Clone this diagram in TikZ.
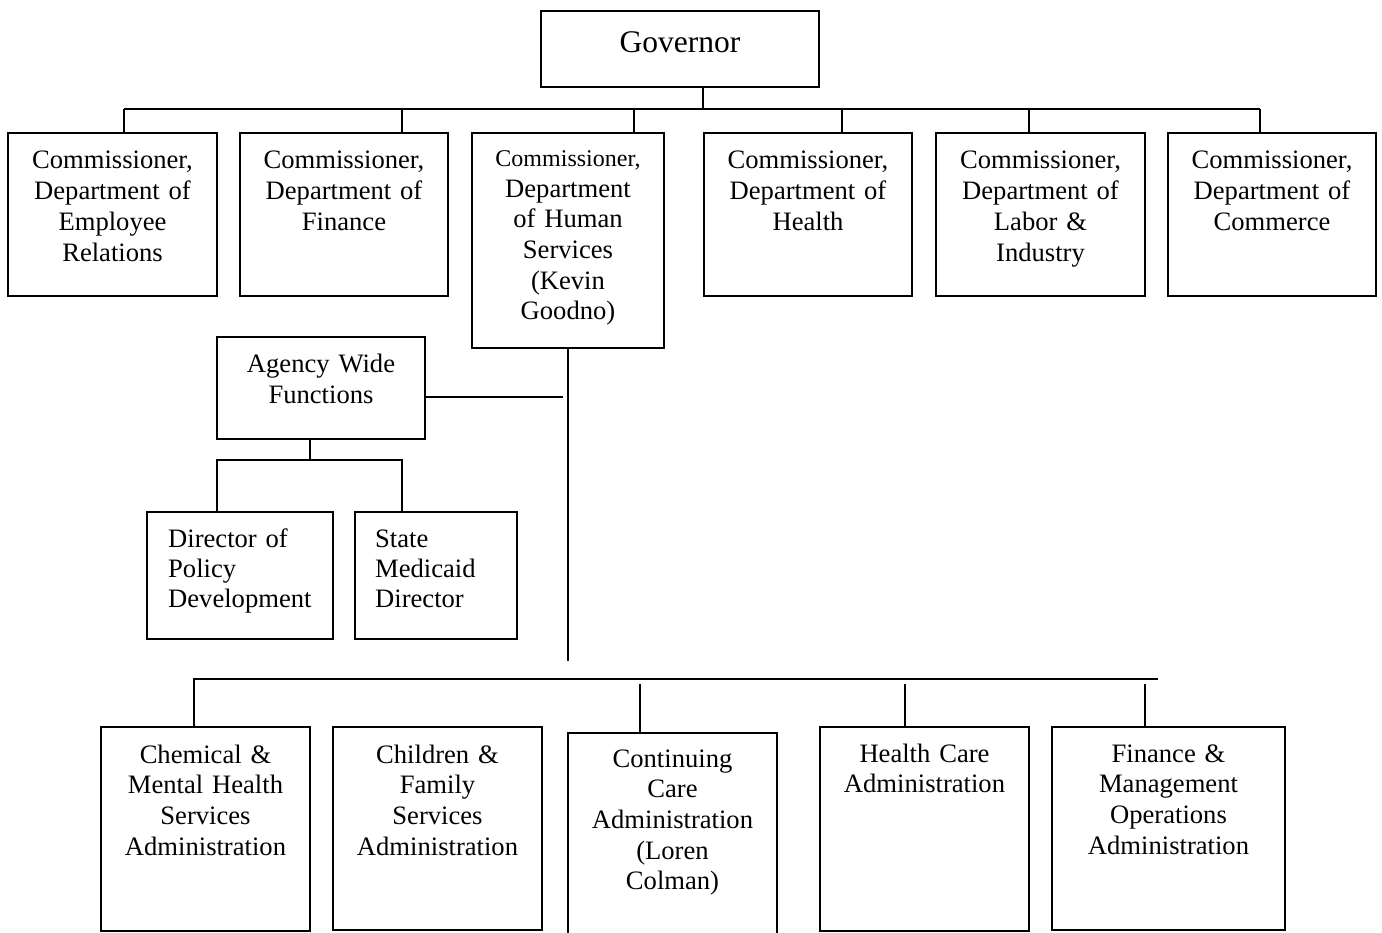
\documentclass[tikz,border=0pt]{standalone}
\usepackage{fontspec}
\setmainfont{Liberation Serif}
\begin{document}
\begin{tikzpicture}[x=1pt,y=-1pt,
  bx/.style={draw, line width=1.6pt, inner sep=0pt, outer sep=0pt},
  ln/.style={line width=1.6pt},
  txt/.style={inner sep=0pt, text width=240pt, align=center, anchor=base,
              font=\fontsize{26.6}{30.7}\selectfont},
  ltxt/.style={inner sep=0pt, text width=180pt, align=left, anchor=base west,
              font=\fontsize{26.6}{30.2}\selectfont}]
\useasboundingbox (0,0) rectangle (1382,933);
\fill[white] (0,0) rectangle (1382,933);
\clip (0,0) rectangle (1382,933);

% boxes
\node[bx, minimum width=278pt, minimum height=76pt] (gov) at (680,49) {};
\node[bx, minimum width=209pt, minimum height=163pt] (c1) at (112.5,214.5) {};
\node[bx, minimum width=208pt, minimum height=163pt] (c2) at (344,214.5) {};
\node[bx, minimum width=192pt, minimum height=215pt] (c3) at (568,240.5) {};
\node[bx, minimum width=208pt, minimum height=163pt] (c4) at (808,214.5) {};
\node[bx, minimum width=209pt, minimum height=163pt] (c5) at (1040.5,214.5) {};
\node[bx, minimum width=208pt, minimum height=163pt] (c6) at (1272,214.5) {};
\node[bx, minimum width=208pt, minimum height=102pt] (awf) at (321,388) {};
\node[bx, minimum width=186pt, minimum height=127pt] (dpd) at (240,575.5) {};
\node[bx, minimum width=162pt, minimum height=127pt] (smd) at (436,575.5) {};
\node[bx, minimum width=209pt, minimum height=204pt] (b1) at (205.5,829) {};
\node[bx, minimum width=209pt, minimum height=203pt] (b2) at (437.5,828.5) {};
\node[bx, minimum width=209pt, minimum height=240pt] (b3) at (672.5,853) {};
\node[bx, minimum width=209pt, minimum height=204pt] (b4) at (924.5,829) {};
\node[bx, minimum width=233pt, minimum height=203pt] (b5) at (1168.5,828.5) {};

% texts
\node[inner sep=0pt, anchor=base, font=\fontsize{31.5}{36}\selectfont] (govt) at (680,53) {Governor};
\node[txt] (c1t) at (112.5,169) {Commissioner,\\Department of\\Employee\\Relations};
\node[txt] (c2t) at (344,169) {Commissioner,\\Department of\\Finance};
\node[txt] (c3t) at (568,166.5) {{\fontsize{24}{30.7}\selectfont Commissioner,}\\Department\\of Human\\Services\\(Kevin\\Goodno)};
\node[txt] (c4t) at (808,169) {Commissioner,\\Department of\\Health};
\node[txt] (c5t) at (1040.5,169) {Commissioner,\\Department of\\Labor \&\\Industry};
\node[txt] (c6t) at (1272,169) {Commissioner,\\Department of\\Commerce};
\node[txt] (awft) at (321,373) {Agency Wide\\Functions};
\node[ltxt] (dpdt) at (168,547) {Director of\\Policy\\Development};
\node[ltxt] (smdt) at (375,547) {State\\Medicaid\\Director};
\node[txt] (b1t) at (205.5,763) {Chemical \&\\Mental Health\\Services\\Administration};
\node[txt] (b2t) at (437.5,763) {Children \&\\Family\\Services\\Administration};
\node[txt] (b3t) at (672.5,767) {Continuing\\Care\\Administration\\(Loren\\Colman)};
\node[txt] (b4t) at (924.5,762) {Health Care\\Administration};
\node[txt] (b5t) at (1168.5,762) {Finance \&\\Management\\Operations\\Administration};

% top bus
\coordinate (t0) at (703,109);
\coordinate (t1) at (124,109);
\coordinate (t2) at (402,109);
\coordinate (t3) at (634,109);
\coordinate (t4) at (842,109);
\coordinate (t5) at (1029,109);
\coordinate (t6) at (1260,109);
\draw[ln] (t0 |- gov.south) -- (t0);
\draw[ln] (t1) -- (t6);
\foreach \i in {1,...,6} {\draw[ln] (t\i) -- (t\i |- c\i.north);}

% main vertical and agency wide functions
\coordinate (vend) at (568,661);
\draw[ln] (c3.south) -- (vend);
\coordinate (awr) at (563,397);
\draw[ln] (awr) -- (awr -| awf.east);
\coordinate (ab) at (310,460);
\coordinate (abL) at (217,460);
\coordinate (abR) at (402,460);
\draw[ln] (ab |- awf.south) -- (ab);
\draw[ln] (abL |- dpd.north) -- (abL) -- (abR) -- (abR |- smd.north);

% bottom bus
\coordinate (bb1) at (194,679);
\coordinate (bb2) at (1158,679);
\draw[ln] (bb1 |- b1.north) -- (bb1) -- (bb2);
\coordinate (s3) at (640,684);
\coordinate (s4) at (905,684);
\coordinate (s5) at (1145,684);
\foreach \i in {3,4,5} {\draw[ln] (s\i) -- (s\i |- b\i.north);}
\end{tikzpicture}
\end{document}
